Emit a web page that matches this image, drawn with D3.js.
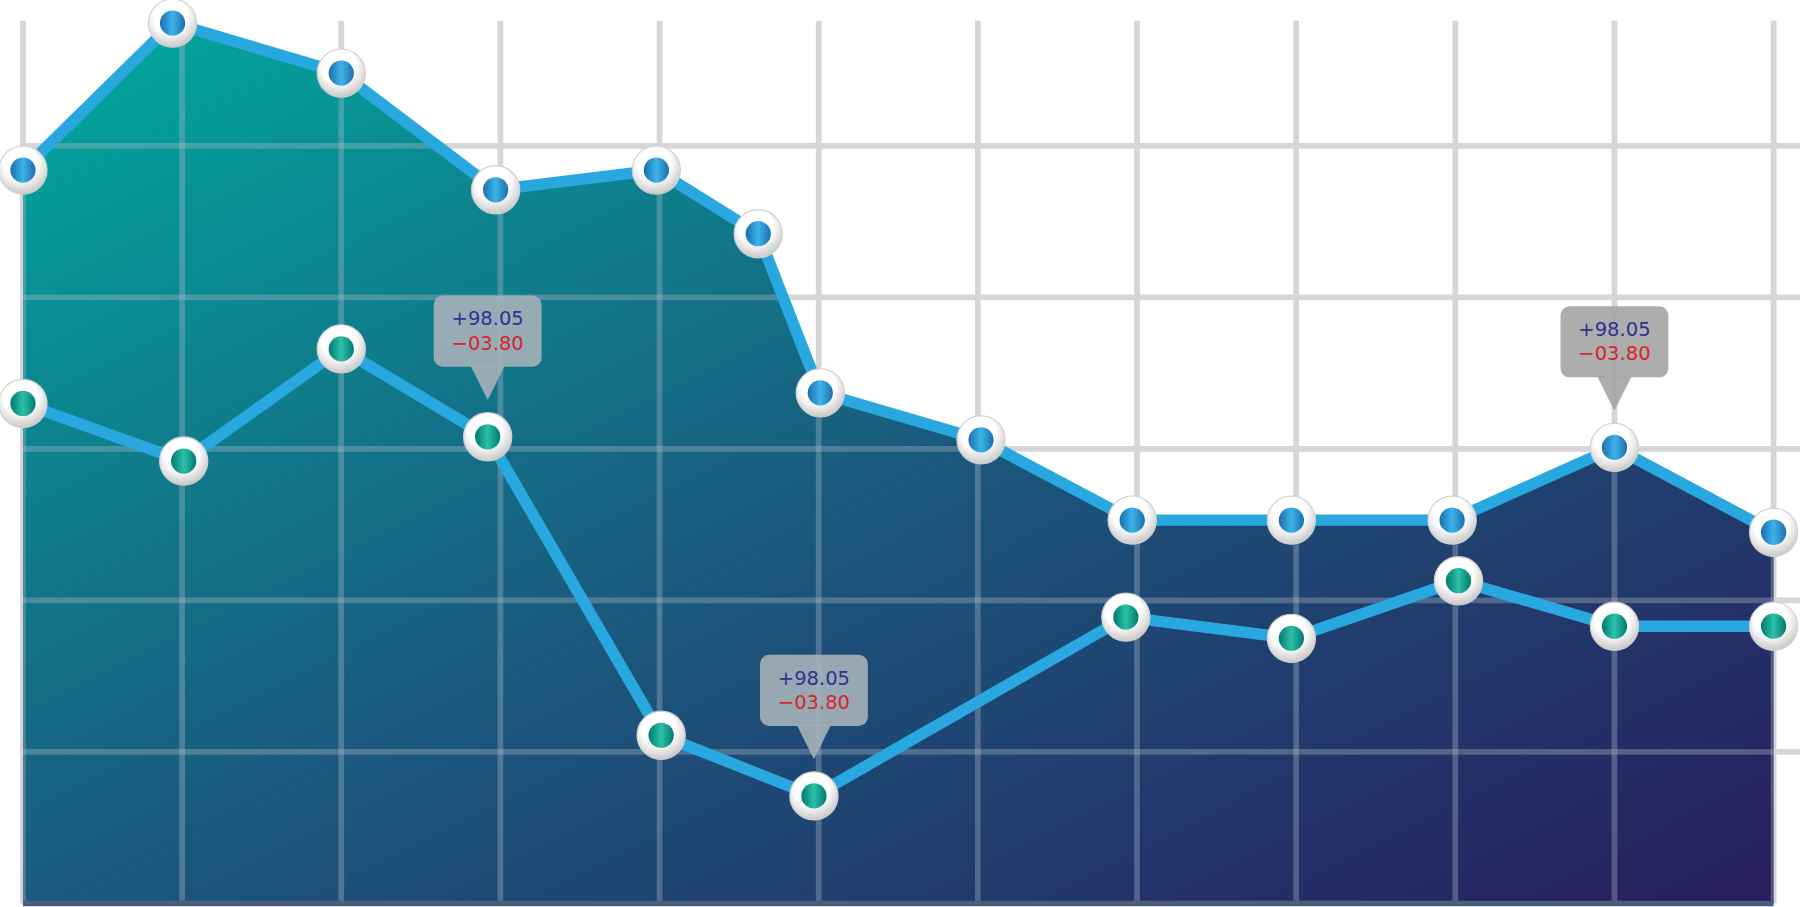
<!DOCTYPE html><html><head><meta charset="utf-8"><script src="https://cdn.jsdelivr.net/npm/d3@7"></script>
<style>body{margin:0;background:#fff}svg{display:block}</style></head><body><svg id="c" width="1800" height="907" viewBox="0 0 1568 790"></svg>
<script>
const topX=[0,0.94,2.0,2.97,3.98,4.62,5.01,6.02,6.97,7.97,8.98,10.0,11.0];
const topY=[4.84,5.81,5.48,4.71,4.84,4.42,3.37,3.06,2.53,2.53,2.53,3.01,2.45];
const botX=[0,1.01,2.0,2.92,4.01,4.97,6.93,7.97,9.02,10.0,11.0];
const botY=[3.30,2.92,3.66,3.08,1.11,0.71,1.89,1.75,2.13,1.83,1.83];
const gridX=d3.range(0,12);
const gridY=[1,2,3,4,5];
const tips=[{x:2.92,y:3.08,up:"+98.05",dn:"\u221203.80",c:"#a3b0b8"},{x:4.97,y:0.71,up:"+98.05",dn:"\u221203.80",c:"#a3b0b8"},{x:10.0,y:3.01,up:"+98.05",dn:"\u221203.80",c:"#a6a6a6"}];
const x=d3.scaleLinear().domain([0,11]).range([20,1545]);
const y=d3.scaleLinear().domain([0,6]).range([787,127-132*0]);
// y: 1 unit = 132px
y.range([787,787-6*132]);
const svg=d3.select("#c");
const defs=svg.append("defs");
const g=defs.append("linearGradient").attr("id","ag").attr("x1","0").attr("y1","0").attr("x2","1").attr("y2","1");
g.append("stop").attr("offset","0").attr("stop-color","#00aa9e");
g.append("stop").attr("offset","0.5").attr("stop-color","#1a5a7e");
g.append("stop").attr("offset","1").attr("stop-color","#281c5c");
const wg=defs.append("radialGradient").attr("id","wg").attr("cx","0.45").attr("cy","0.35").attr("r","0.7");
wg.append("stop").attr("offset","0.5").attr("stop-color","#ffffff");
wg.append("stop").attr("offset","1").attr("stop-color","#bfbfbf");
function lg(id,a,b){const l=defs.append("linearGradient").attr("id",id).attr("x1","0").attr("x2","1");
l.append("stop").attr("offset","0").attr("stop-color",a);l.append("stop").attr("offset","0.5").attr("stop-color",b);l.append("stop").attr("offset","1").attr("stop-color",a);}
lg("bg","#1b6fae","#3eb2e8");lg("tg","#007a6e","#2cc0a8");
const topPts=topX.map((v,i)=>[v,topY[i]]), botPts=botX.map((v,i)=>[v,botY[i]]);
const area=d3.area().x(d=>x(d[0])).y0(y(0)).y1(d=>y(d[1]));
defs.append("clipPath").attr("id","cl").append("path").attr("d",area(topPts));
function grid(sel,col,op){
 sel.selectAll(".v").data(gridX).join("line").attr("x1",d=>x(d)).attr("x2",d=>x(d)).attr("y1",18).attr("y2",787).attr("stroke",col).attr("stroke-width",5).attr("opacity",op);
 sel.selectAll(".h").data(gridY).join("line").attr("x1",20).attr("x2",1568).attr("y1",d=>y(d)).attr("y2",d=>y(d)).attr("stroke",col).attr("stroke-width",5).attr("opacity",op);
}
grid(svg.append("g"),"#d6d6d6",1);
svg.append("path").attr("d",area(topPts)).attr("fill","url(#ag)");
grid(svg.append("g").attr("clip-path","url(#cl)"),"#b0bcc8",0.35);
svg.append("line").attr("x1",20).attr("x2",1545).attr("y1",787).attr("y2",787).attr("stroke","#4a5e80").attr("stroke-width",5);
const line=d3.line().x(d=>x(d[0])).y(d=>y(d[1]));
[topPts,botPts].forEach(p=>svg.append("path").attr("d",line(p)).attr("fill","none").attr("stroke","#29a8e0").attr("stroke-width",10).attr("stroke-linejoin","round"));
function markers(p,fill){
 const m=svg.append("g").selectAll("g").data(p).join("g").attr("transform",d=>`translate(${x(d[0])},${y(d[1])})`);
 m.append("circle").attr("r",21).attr("fill","url(#wg)").attr("stroke","#d0d0d0").attr("stroke-width",1);
 m.append("circle").attr("r",11).attr("fill",fill);
}
markers(topPts,"url(#bg)");markers(botPts,"url(#tg)");
const t=svg.append("g").selectAll("g").data(tips).join("g").attr("transform",d=>`translate(${x(d.x)},${y(d.y)})`);
t.append("rect").attr("x",-47).attr("y",-123).attr("width",94).attr("height",62).attr("rx",8).attr("fill",d=>d.c).attr("opacity",0.92);
t.append("path").attr("d","M-15,-62 L15,-62 L0,-32 Z").attr("fill",d=>d.c).attr("opacity",0.92);
t.append("text").attr("y",-97).attr("text-anchor","middle").attr("font-family","DejaVu Sans").attr("font-size",17).attr("fill","#2e3192").text(d=>d.up);
t.append("text").attr("y",-76).attr("text-anchor","middle").attr("font-family","DejaVu Sans").attr("font-size",17).attr("fill","#d7262b").text(d=>d.dn);
</script></body></html>
